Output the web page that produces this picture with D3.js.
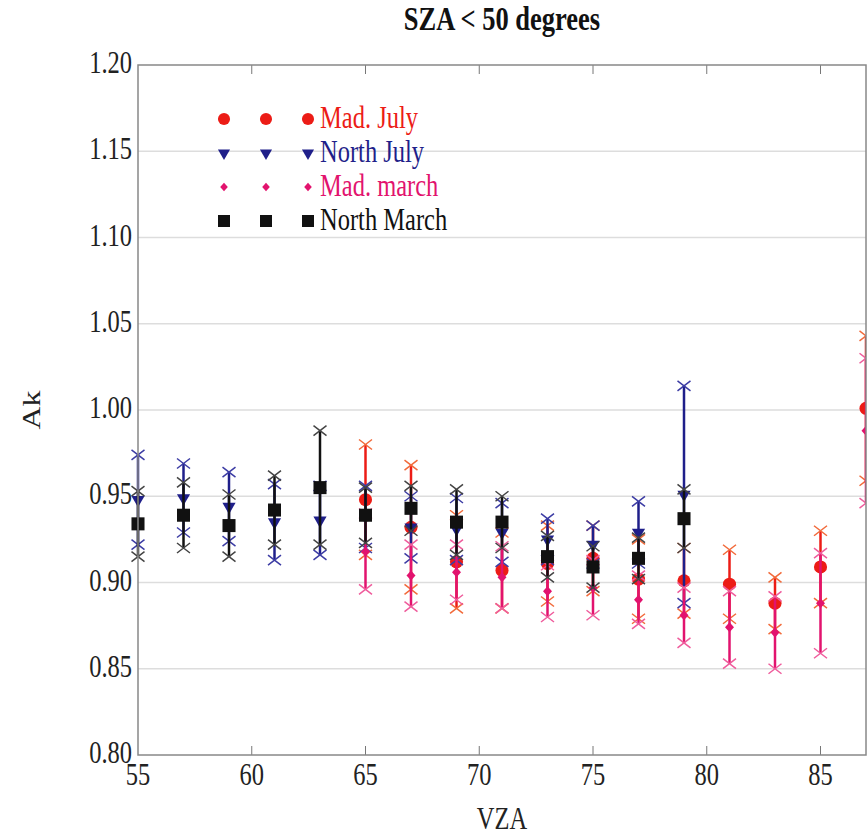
<!DOCTYPE html>
<html>
<head>
<meta charset="utf-8">
<script src="https://cdn.jsdelivr.net/npm/d3@7"></script>
<style>
body { margin: 0; background: #fff; }
text { font-family: "Liberation Serif", "Times New Roman", serif; }
</style>
</head>
<body>
<div id="chart"></div>
<script>
// VZA positions for each campaign
var madVza = [65, 67, 69, 71, 73, 75, 77, 79, 81, 83, 85, 87];
var northVza = [55, 57, 59, 61, 63, 65, 67, 69, 71, 73, 75, 77, 79];

// Ak mean and error (half bar)
var madJulyAk = [0.948, 0.932, 0.912, 0.907, 0.911, 0.914, 0.902, 0.901, 0.899, 0.888, 0.909, 1.001];
var madJulyErr = [0.032, 0.036, 0.027, 0.022, 0.022, 0.019, 0.023, 0.019, 0.020, 0.015, 0.021, 0.042];

var northJulyAk = [0.948, 0.949, 0.944, 0.935, 0.936, 0.938, 0.932, 0.931, 0.929, 0.925, 0.922, 0.929, 0.951];
var northJulyErr = [0.026, 0.020, 0.020, 0.022, 0.020, 0.018, 0.018, 0.018, 0.017, 0.012, 0.011, 0.018, 0.063];

var madMarchAk = [0.918, 0.904, 0.906, 0.903, 0.895, 0.897, 0.890, 0.881, 0.874, 0.871, 0.888, 0.988];
var madMarchErr = [0.022, 0.018, 0.016, 0.018, 0.015, 0.016, 0.014, 0.016, 0.021, 0.021, 0.029, 0.042];

var northMarchAk = [0.934, 0.939, 0.933, 0.942, 0.955, 0.939, 0.943, 0.935, 0.935, 0.915, 0.909, 0.914, 0.937];
var northMarchErr = [0.019, 0.019, 0.018, 0.020, 0.033, 0.016, 0.013, 0.019, 0.015, 0.012, 0.012, 0.012, 0.017];

var seriesNames = ["Mad. July", "North July", "Mad. march", "North March"];
var yTicks = [0.80, 0.85, 0.90, 0.95, 1.00, 1.05, 1.10, 1.15, 1.20];
var xTicks = [55, 60, 65, 70, 75, 80, 85];

var series = [
    { name: seriesNames[0], vza: madVza, ak: madJulyAk, err: madJulyErr, color: "#ec1c16", xcolor: "#f26a3a", shape: "circle" },
    { name: seriesNames[1], vza: northVza, ak: northJulyAk, err: northJulyErr, color: "#1f1f8a", xcolor: "#3c3ca4", shape: "triangle" },
    { name: seriesNames[2], vza: madVza, ak: madMarchAk, err: madMarchErr, color: "#e2136e", xcolor: "#ef5c9c", shape: "diamond" },
    { name: seriesNames[3], vza: northVza, ak: northMarchAk, err: northMarchErr, color: "#111111", xcolor: "#444444", shape: "square" }
];

var W = 868, H = 835;
var margin = { top: 65, right: 2, bottom: 80, left: 138 },
    width = W - margin.left - margin.right,
    height = H - margin.top - margin.bottom;
var stretch = 1.3; // text in the reference is tall and narrow

var svg = d3.select("#chart").append("svg")
    .attr("width", W)
    .attr("height", H);

var g = svg.append("g")
    .attr("transform", "translate(" + margin.left + "," + margin.top + ")");

var x = d3.scaleLinear().domain([55, 87]).range([0, width]);
var y = d3.scaleLinear().domain([0.80, 1.20]).range([height, 0]);

function label(parent, str, px, py, anchor, size, weight, color, rot) {
    var t = parent.append("text")
        .attr("transform", "translate(" + px + "," + py + ") scale(1," + stretch + ")" + (rot ? " rotate(" + rot + ")" : ""))
        .attr("text-anchor", anchor)
        .style("font-size", size + "px")
        .style("font-weight", weight || "normal")
        .style("fill", color || "#222")
        .text(str);
    return t;
}

function markerPath(shape, big) {
    var k = big ? 1 : 0.85;
    if (shape == "circle") return d3.symbol().type(d3.symbolCircle).size(135 * k)();
    if (shape == "triangle") return d3.symbol().type(d3.symbolTriangle).size(75 * k)();
    if (shape == "diamond") {
        var a = 4.5 * k, b = 5 * k;
        return "M0," + (-b) + "L" + a + ",0L0," + b + "L" + (-a) + ",0Z";
    }
    return d3.symbol().type(d3.symbolSquare).size(170 * k)();
}

// grid lines
g.selectAll(".grid")
    .data(yTicks.slice(1, -1))
    .enter()
    .append("line")
    .attr("x1", 0)
    .attr("x2", width)
    .attr("y1", function (d) { return y(d); })
    .attr("y2", function (d) { return y(d); })
    .attr("stroke", "#dddddd")
    .attr("stroke-width", 1.5);

// inner ticks top and bottom
g.selectAll(".xtickb")
    .data(xTicks.slice(1))
    .enter()
    .append("line")
    .attr("x1", function (d) { return x(d); })
    .attr("x2", function (d) { return x(d); })
    .attr("y1", height)
    .attr("y2", height - 9)
    .attr("stroke", "#777")
    .attr("stroke-width", 1);
g.selectAll(".xtickt")
    .data(xTicks.slice(1))
    .enter()
    .append("line")
    .attr("x1", function (d) { return x(d); })
    .attr("x2", function (d) { return x(d); })
    .attr("y1", 0)
    .attr("y2", 9)
    .attr("stroke", "#777")
    .attr("stroke-width", 1);

// legend
var legend = g.append("g").attr("transform", "translate(86,54)");
series.forEach(function (s, i) {
    var row = legend.append("g").attr("transform", "translate(0," + (i * 34) + ")");
    [0, 42, 84].forEach(function (dx) {
        row.append("path")
            .attr("d", markerPath(s.shape, false))
            .attr("transform", "translate(" + dx + ",0)" + (s.shape == "triangle" ? " rotate(180)" : ""))
            .attr("fill", s.color);
    });
    label(row, s.name, 96, 9, "start", 24.5, "normal", s.color);
});

// data
var plot = g.append("g").attr("clip-path", "url(#clip)");
svg.append("clipPath").attr("id", "clip")
    .append("rect")
    .attr("x", -20).attr("y", -10)
    .attr("width", width + 20).attr("height", height + 20);

var xMark = "M-6.5,-5L6.5,5M-6.5,5L6.5,-5";

series.forEach(function (s) {
    var pts = s.vza.map(function (v, i) {
        return { vza: v, ak: s.ak[i], err: s.err[i] };
    });
    var sg = plot.append("g");
    sg.selectAll(".bar")
        .data(pts)
        .enter()
        .append("line")
        .attr("x1", function (d) { return x(d.vza); })
        .attr("x2", function (d) { return x(d.vza); })
        .attr("y1", function (d) { return y(d.ak - d.err); })
        .attr("y2", function (d) { return y(d.ak + d.err); })
        .attr("stroke", s.color)
        .attr("stroke-width", 2.5);
    [-1, 1].forEach(function (sign) {
        sg.selectAll(".xm" + sign)
            .data(pts)
            .enter()
            .append("path")
            .attr("d", xMark)
            .attr("transform", function (d) {
                return "translate(" + x(d.vza) + "," + y(d.ak + sign * d.err) + ")";
            })
            .attr("fill", "none")
            .attr("stroke", s.xcolor)
            .attr("stroke-width", 1.5);
    });
    sg.selectAll(".mk")
        .data(pts)
        .enter()
        .append("path")
        .attr("d", markerPath(s.shape, true))
        .attr("transform", function (d) {
            return "translate(" + x(d.vza) + "," + y(d.ak) + ")" + (s.shape == "triangle" ? " rotate(180)" : "");
        })
        .attr("fill", s.color);
});

// frame
g.append("rect")
    .attr("x", 0).attr("y", 0)
    .attr("width", width).attr("height", height)
    .attr("fill", "none")
    .attr("stroke", "#888")
    .attr("stroke-width", 1.5);

// tick labels
yTicks.forEach(function (v) {
    label(g, d3.format(".2f")(v), -6, y(v) + 8, "end", 24.5);
});
xTicks.forEach(function (v) {
    label(g, v, x(v), height + 30, "middle", 24.5);
});

// titles
label(svg, "SZA < 50 degrees", margin.left + width / 2, 30, "middle", 26.5, "bold", "#111");
label(svg, "VZA", margin.left + width / 2, 829, "middle", 24.5, "normal", "#222");
label(svg, "Ak", 40, margin.top + height / 2, "middle", 24.5, "normal", "#222", -90);
</script>
</body>
</html>
